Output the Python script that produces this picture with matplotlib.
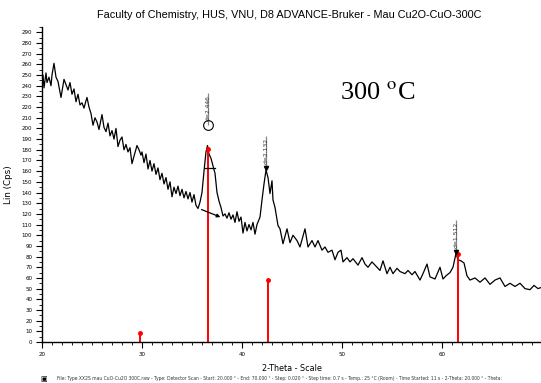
"""XRD pattern, Cu2O-CuO sample annealed at 300 C (D8 ADVANCE style plot)."""
import matplotlib
matplotlib.use("Agg")
import matplotlib.pyplot as plt
from matplotlib.ticker import MultipleLocator

plt.rcParams["mathtext.fontset"] = "stix"

# --- scan (2-theta in degrees, Lin counts) ---
two_theta = [
    20.0, 20.1, 20.2, 20.4, 20.5, 20.7, 20.9, 21.0, 21.2, 21.4, 21.6, 21.9,
    22.2, 22.4, 22.6, 22.8, 23.0, 23.2, 23.4, 23.6, 23.8, 24.0, 24.2, 24.4,
    24.5, 24.7, 24.9, 25.1, 25.3, 25.5, 25.7, 25.9, 26.0, 26.2, 26.4, 26.6,
    26.8, 27.0, 27.2, 27.4, 27.6, 27.8, 28.0, 28.2, 28.4, 28.6, 28.8, 29.0,
    29.2, 29.5, 29.7, 29.9, 30.0, 30.2, 30.4, 30.6, 30.8, 31.0, 31.2, 31.4,
    31.6, 31.8, 32.0, 32.2, 32.4, 32.6, 32.8, 33.0, 33.2, 33.4, 33.6, 33.8,
    34.0, 34.2, 34.4, 34.6, 34.8, 35.0, 35.2, 35.4, 35.6, 35.8, 36.0, 36.2,
    36.4, 36.55, 36.7, 36.9, 37.1, 37.3, 37.5, 37.7, 37.9, 38.1, 38.3, 38.5,
    38.7, 38.9, 39.1, 39.3, 39.5, 39.7, 39.9, 40.1, 40.3, 40.5, 40.7, 40.9,
    41.1, 41.3, 41.5, 41.8, 42.0, 42.2, 42.4, 42.6, 42.8, 43.0, 43.1, 43.3,
    43.6, 43.8, 44.1, 44.5, 44.8, 45.1, 45.5, 45.8, 46.3, 46.6, 47.0, 47.3,
    47.6, 48.0, 48.3, 48.6, 49.0, 49.3, 49.6, 49.9, 50.1, 50.5, 50.8, 51.1,
    51.6, 52.0, 52.3, 52.6, 53.0, 53.5, 53.8, 54.1, 54.5, 54.8, 55.1, 55.5,
    55.8, 56.3, 56.6, 57.0, 57.3, 57.8, 58.1, 58.5, 58.8, 59.3, 59.8, 60.1,
    60.4, 60.8, 61.1, 61.4, 61.6, 61.9, 62.2, 62.5, 62.8, 63.3, 63.8, 64.3,
    64.8, 65.3, 65.8, 66.3, 66.8, 67.3, 67.8, 68.3, 68.8, 69.2, 69.6, 69.9,
]
counts = [
    240, 250, 238, 252, 243, 248, 240, 250, 261, 248, 244, 229,
    246, 241, 236, 243, 232, 237, 225, 232, 222, 224, 219, 226,
    229, 220, 214, 203, 210, 206, 199, 208, 213, 201, 197, 205,
    193, 198, 190, 200, 183, 189, 192, 180, 185, 178, 182, 167,
    174, 184, 180, 175, 178, 168, 176, 162, 170, 160, 167, 157,
    163, 152, 158, 148, 154, 143, 150, 136, 145, 139, 146, 137,
    143, 135, 141, 134, 140, 131, 138, 128, 125, 131, 140, 160,
    178, 184, 176, 172, 165, 158, 140, 132, 126, 118, 120, 116,
    121, 115, 119, 112, 122, 113, 117, 102, 112, 104, 110, 105,
    112, 101, 110, 117, 133, 148, 161, 154, 139, 151, 133, 126,
    109, 106, 92, 106, 93, 100, 95, 89, 106, 89, 95, 89,
    95, 86, 89, 84, 86, 77, 84, 86, 75, 79, 75, 78,
    72, 79, 73, 70, 75, 70, 67, 76, 64, 70, 64, 69,
    66, 64, 67, 63, 66, 58, 64, 73, 61, 59, 70, 59,
    62, 65, 70, 83, 77, 76, 74, 62, 58, 60, 56, 60,
    54, 58, 60, 52, 55, 52, 55, 50, 49, 53, 50, 51,
]

# --- reference pattern sticks ---
ref_pos = [29.8, 36.6, 42.6, 61.6]
ref_int = [8, 181, 58, 82]

# --- d-spacing labels ---
d_pos = [36.55, 42.4, 61.4]
d_peak = [203, 163, 84]
d_text = ["d=2.446", "d=2.132", "d=1.512"]

fig = plt.figure(figsize=(5.41, 3.83), dpi=100)
ax = fig.add_axes([42 / 541, 41 / 383, 499 / 541, 315 / 383])

ax.plot(two_theta, counts, color="black", lw=0.9)
ax.vlines(ref_pos, 0, ref_int, color="red", lw=1.4)
ax.plot(ref_pos, ref_int, "o", color="red", ms=2.5)

# peak markers / labels
for x, y, t in zip(d_pos, d_peak, d_text):
    ax.vlines(x, y, y + 30, color="#888888", lw=0.9)
    ax.text(x + 0.05, y + 16, t, rotation=90, ha="center", va="center",
            fontsize=4.3, color="#333333")
ax.plot(d_pos[0], d_peak[0], "o", mfc="none", mec="black", ms=7, mew=0.8)
ax.plot(d_pos[1:], d_peak[1:], "v", color="black", ms=3)

# FWHM / baseline for the main peak
ax.plot([36.3, 37.3], [163, 163], color="black", lw=0.9)
ax.annotate("", xy=(38.1, 116), xytext=(35.7, 125),
            arrowprops=dict(arrowstyle="-|>", color="black", lw=0.9,
                            mutation_scale=5))

ax.set_xlim(20, 69.9)
ax.set_ylim(0, 295)
ax.xaxis.set_major_locator(MultipleLocator(10))
ax.xaxis.set_minor_locator(MultipleLocator(1))
ax.yaxis.set_major_locator(MultipleLocator(10))
ax.yaxis.set_minor_locator(MultipleLocator(5))
ax.tick_params(which="major", length=4, width=0.8, labelsize=4,
               direction="out", pad=3)
ax.tick_params(which="minor", length=2.5, width=0.6)
for s in ("top", "right"):
    ax.spines[s].set_visible(False)
for s in ("left", "bottom"):
    ax.spines[s].set_linewidth(1.0)

ax.set_ylabel("Lin (Cps)", fontsize=6.3, labelpad=6)
ax.set_xlabel("2-Theta - Scale", fontsize=5.8, labelpad=5)

fig.text(0.535, 0.962,
         "Faculty of Chemistry, HUS, VNU, D8 ADVANCE-Bruker - Mau Cu2O-CuO-300C",
         ha="center", va="center", fontsize=7.8, family="Liberation Sans")
ax.text(0.672, 0.79, "300 $^{\\rm o}$C", transform=ax.transAxes, ha="center",
        va="center", fontsize=19, family="Liberation Serif")

fig.text(0.075, 0.002, "\u25a3", fontsize=5, ha="left", va="bottom")
fig.text(0.105, 0.004,
         "File: Type XX2S mau CuO-Cu2O 300C.raw - Type: Detector Scan - Start: 20.000 \u00b0 - "
         "End: 70.000 \u00b0 - Step: 0.020 \u00b0 - Step time: 0.7 s - Temp.: 25 \u00b0C (Room) - "
         "Time Started: 11 s - 2-Theta: 20.000 \u00b0 - Theta:",
         fontsize=3.25, ha="left", va="bottom", color="#333333")

fig.savefig("out.png", dpi=100)
